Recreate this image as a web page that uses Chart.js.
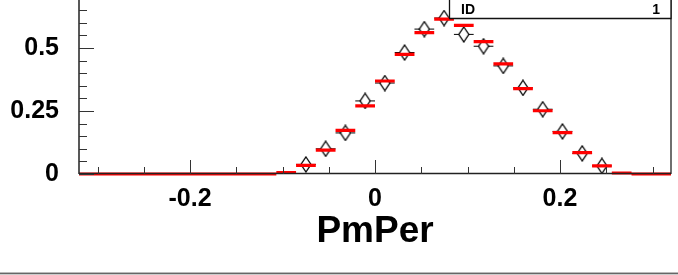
<!DOCTYPE html>
<html><head><meta charset="utf-8">
<script src="https://cdn.jsdelivr.net/npm/chart.js@4/dist/chart.umd.min.js"></script>
<style>html,body{margin:0;padding:0;background:#fff;overflow:hidden}canvas{display:block}</style>
</head><body>
<canvas id="c" width="678" height="275" style="width:678px;height:275px"></canvas>
<script>
// ---- data ----
const xMin = -0.32, xMax = 0.32, nBins = 30;
const mcValues = [0,0,0,0,0,0,0,0,0,0,
  0.006,0.034,0.095,0.173,0.270,0.369,0.475,0.561,0.615,0.590,
  0.525,0.437,0.339,0.251,0.164,0.085,0.032,0.004,0,0];
const dataValues = [null,null,null,null,null,null,null,null,null,null,
  null,0.038,0.100,0.163,0.290,0.361,0.482,0.575,0.619,0.554,
  0.507,0.429,0.342,0.257,0.169,0.082,0.032,null,null,null];
const xTickValues = [-0.2, 0, 0.2];
const xTickLabels = ['-0.2', '0', '0.2'];
const yTickValues = [0, 0.25, 0.5];
const yTickLabels = ['0', '0.25', '0.5'];
const xMinorTicks = [-0.3,-0.25,-0.15,-0.1,-0.05,0.05,0.1,0.15,0.25,0.3];
const yMinorTicks = [0.05,0.1,0.15,0.2,0.3,0.35,0.4,0.45,0.55,0.6,0.65];
const xTitle = 'PmPer';
const statsLabel = 'ID', statsValue = '1';
const yMax = 0.6905;

// ---- build datasets ----
const bw = (xMax - xMin) / nBins;
const redSegs = [], blackSegs = [], pts = [];
for (let i = 0; i < nBins; i++) {
  const lo = xMin + i * bw, hi = lo + bw;
  redSegs.push({x: lo, y: mcValues[i]}, {x: hi, y: mcValues[i]}, {x: hi, y: null});
  if (dataValues[i] !== null) {
    blackSegs.push({x: lo, y: dataValues[i]}, {x: hi, y: dataValues[i]}, {x: hi, y: null});
    pts.push({x: lo + bw / 2, y: dataValues[i]});
  }
}

// diamond marker
const dm = document.createElement('canvas');
dm.width = 12; dm.height = 17;
(function(){
  const g = dm.getContext('2d');
  g.beginPath();
  g.moveTo(6, 1); g.lineTo(11, 8.5); g.lineTo(6, 16); g.lineTo(1, 8.5); g.closePath();
  g.fillStyle = '#fff'; g.fill();
  g.strokeStyle = '#000'; g.lineWidth = 1.3; g.stroke();
})();

const FONT = '"Liberation Sans", Arial, Helvetica, sans-serif';

const framePlugin = {
  id: 'frame',
  afterDatasetsDraw(chart) {
    const {ctx, chartArea: a, scales: {x, y}} = chart;
    ctx.save();
    ctx.strokeStyle = '#222';
    ctx.lineWidth = 1.5;
    ctx.beginPath();
    ctx.moveTo(a.left, 0); ctx.lineTo(a.left, a.bottom);
    ctx.moveTo(a.left, a.bottom - 0.5); ctx.lineTo(a.right, a.bottom - 0.5);
    ctx.stroke();
    ctx.lineWidth = 1.3;
    ctx.beginPath();
    ctx.moveTo(a.right, 0); ctx.lineTo(a.right, a.bottom);
    ctx.stroke();
    ctx.lineWidth = 1;
    ctx.strokeStyle = '#333';
    ctx.beginPath();
    xTickValues.forEach(v => { const p = Math.round(x.getPixelForValue(v)) + 0.5; ctx.moveTo(p, a.bottom); ctx.lineTo(p, a.bottom - 14); });
    xMinorTicks.forEach(v => { const p = Math.round(x.getPixelForValue(v)) + 0.5; ctx.moveTo(p, a.bottom); ctx.lineTo(p, a.bottom - 7); });
    yTickValues.forEach(v => { const p = Math.round(y.getPixelForValue(v)) + 0.5; ctx.moveTo(a.left, p); ctx.lineTo(a.left + 15, p); });
    yMinorTicks.forEach(v => { const p = Math.round(y.getPixelForValue(v)) + 0.5; ctx.moveTo(a.left, p); ctx.lineTo(a.left + 8, p); });
    ctx.stroke();
    // stats box
    const bx = 449.5, by = 18.5;
    ctx.fillStyle = '#fff';
    ctx.fillRect(bx, -2, a.right - bx, by + 2);
    ctx.strokeStyle = '#111';
    ctx.lineWidth = 1.3;
    ctx.beginPath();
    ctx.moveTo(bx, 0); ctx.lineTo(bx, by); ctx.lineTo(a.right, by); ctx.lineTo(a.right, 0);
    ctx.stroke();
    ctx.fillStyle = '#000';
    ctx.font = 'bold 14px ' + FONT;
    ctx.textBaseline = 'alphabetic';
    ctx.textAlign = 'left';
    ctx.fillText(statsLabel, 461, 14);
    ctx.textAlign = 'right';
    ctx.fillText(statsValue, 660, 14);
    // page border line at bottom
    ctx.strokeStyle = '#222';
    ctx.lineWidth = 1;
    ctx.beginPath(); ctx.moveTo(0, 273.2); ctx.lineTo(678, 273.2); ctx.stroke();
    ctx.strokeStyle = '#ccc';
    ctx.beginPath(); ctx.moveTo(0, 274.5); ctx.lineTo(678, 274.5); ctx.stroke();
    ctx.restore();
  }
};

new Chart(document.getElementById('c'), {
  type: 'scatter',
  data: {
    datasets: [
      { label: 'mc', data: redSegs, showLine: true, spanGaps: false, borderColor: '#ff0000', borderWidth: 3.2, borderCapStyle: 'butt', pointRadius: 0, clip: false },
      { label: 'data', data: pts, showLine: false, pointStyle: dm, pointRadius: 6, pointHoverRadius: 6, clip: false },
      { label: 'xerr', data: blackSegs, showLine: true, spanGaps: false, borderColor: '#000', borderWidth: 1, pointRadius: 0 }
    ]
  },
  options: {
    responsive: false,
    animation: false,
    devicePixelRatio: 1,
    events: [],
    layout: { autoPadding: false, padding: { left: 0, right: 7, top: 0, bottom: 0 } },
    plugins: { legend: { display: false }, tooltip: { enabled: false } },
    scales: {
      x: {
        type: 'linear', min: xMin, max: xMax,
        grid: { display: false, drawTicks: false },
        border: { display: false },
        afterBuildTicks(s) { s.ticks = xTickValues.map(v => ({value: v})); },
        afterFit(s) { s.height = 101; s.paddingLeft = 0; s.paddingRight = 0; },
        ticks: {
          autoSkip: false, maxRotation: 0, padding: 10, color: '#000',
          font: { family: FONT, size: 25, weight: 'bold' },
          callback: (v, i) => xTickLabels[i]
        },
        title: {
          display: true, text: xTitle, color: '#000',
          font: { family: FONT, size: 37, weight: 'bold' },
          padding: { top: 0, bottom: 21 }
        }
      },
      y: {
        type: 'linear', min: 0, max: yMax,
        grid: { display: false, drawTicks: false },
        border: { display: false },
        afterBuildTicks(s) { s.ticks = yTickValues.map(v => ({value: v})); },
        afterFit(s) { s.width = 79; s.paddingTop = 0; s.paddingBottom = 0; },
        ticks: {
          autoSkip: false, padding: 20, color: '#000',
          font: { family: FONT, size: 25, weight: 'bold' },
          callback: (v, i) => yTickLabels[i]
        }
      }
    }
  },
  plugins: [framePlugin]
});
</script>
</body></html>
